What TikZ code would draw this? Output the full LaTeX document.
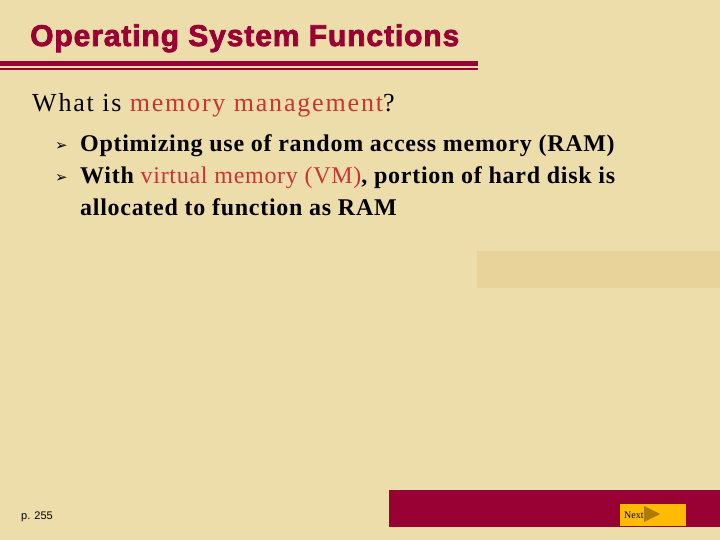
\documentclass[tikz,border=0pt]{standalone}
\usepackage{fontspec}
\setmainfont{Liberation Serif}
\newfontfamily\titlefont{Liberation Sans}
\newfontfamily\titlefontsp[LetterSpace=3,FakeBold=2.5]{Liberation Sans}
\newfontfamily\qfont[LetterSpace=7]{Liberation Serif}
\newfontfamily\bfont[LetterSpace=3]{Liberation Serif}
\newfontfamily\djv{DejaVu Sans}
\definecolor{bg}{HTML}{EDDDAB}
\definecolor{maroon}{HTML}{990033}
\definecolor{hl}{HTML}{CC3333}
\definecolor{box}{HTML}{E8D49A}
\definecolor{gold}{HTML}{FFBB00}
\definecolor{tri}{HTML}{A07000}
\begin{document}
\begin{tikzpicture}[x=1pt,y=-1pt,
  txt/.style={anchor=base west,inner sep=0pt,font=\bfont\fontsize{24}{26}\selectfont\bfseries},
  bul/.style={anchor=base west,inner sep=0pt,font=\djv\fontsize{15}{17}\selectfont}]
\fill[bg] (0,0) rectangle (720,540);
\useasboundingbox (0,0) rectangle (720,540);
\node[anchor=base west,inner sep=0pt,text=maroon,font=\titlefontsp\fontsize{30}{32}\selectfont\bfseries] (title) at (30,46) {Operating System Functions};
\fill[maroon] (0,61) rectangle (478,66);
\fill[maroon] (0,68) rectangle (478,70);
\node[anchor=base west,inner sep=0pt,font=\qfont\fontsize{26}{28}\selectfont] (q) at (32,112) {What is \textcolor{hl}{memory management}?};
\node[bul] (b1) at (55,151) {➢};
\node[txt] (t1) at (80,152) {Optimizing use of random access memory (RAM)};
\node[bul] (b2) at (55,183) {➢};
\node[txt] (t2) at (80,184) {With \textcolor{hl}{\mdseries virtual memory (VM)}, portion of hard disk is};
\node[txt] (t3) at (80,215) {allocated to function as RAM};
\fill[box] (477,251) rectangle (720,288);
\node[anchor=base west,inner sep=0pt,font=\titlefont\fontsize{11}{12}\selectfont] (p) at (21,519) {p. 255};
\fill[maroon] (389,490) rectangle (720,527);
\fill[gold] (620,504) rectangle (686,526);
\node[anchor=base west,inner sep=0pt,font=\fontsize{10}{11}\selectfont] (n) at (624,518) {Next};
\fill[tri,opacity=0.85] (644,506) -- (660,514) -- (644,522) -- cycle;
\end{tikzpicture}
\end{document}
